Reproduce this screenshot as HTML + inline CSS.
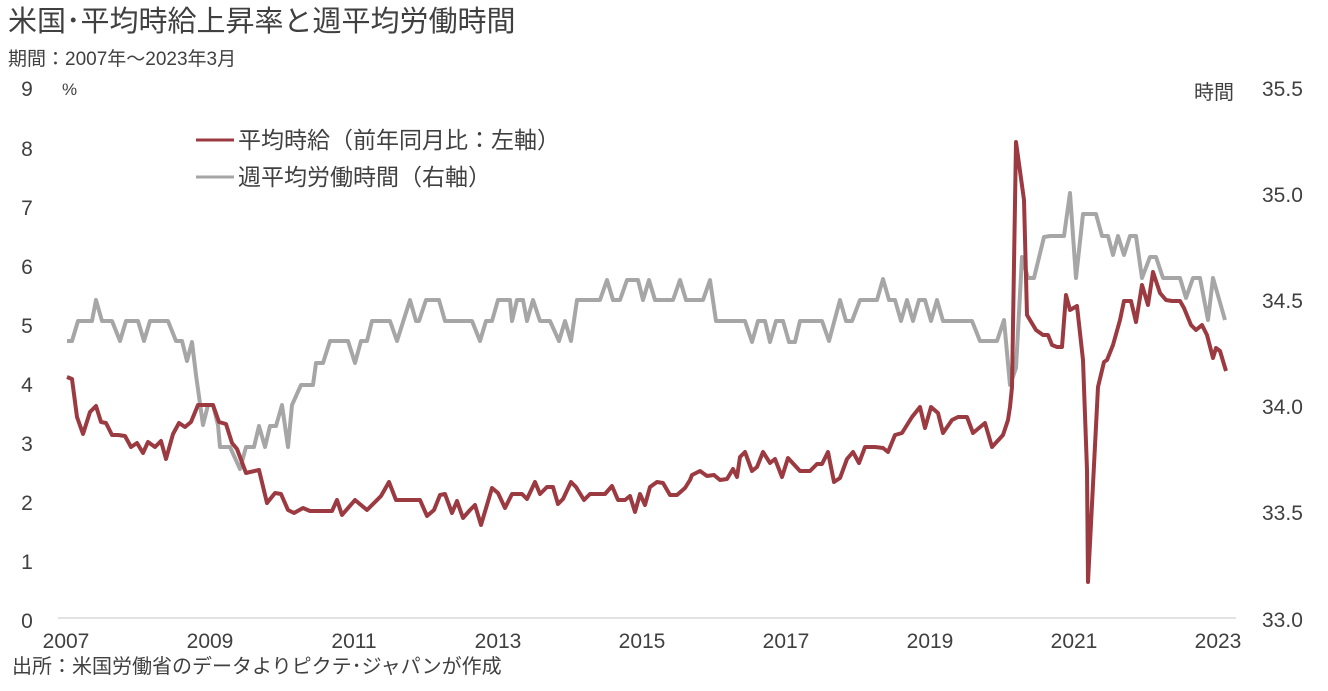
<!DOCTYPE html>
<html><head><meta charset="utf-8"><style>
html,body{margin:0;padding:0;background:#fff;}
svg text{font-family:"Liberation Sans","Noto Sans CJK JP",sans-serif;fill:#404040;}
</style></head><body>
<svg width="1328" height="686" viewBox="0 0 1328 686" xmlns="http://www.w3.org/2000/svg">
<text x="8" y="31" font-size="29" fill="#333">米国･平均時給上昇率と週平均労働時間</text>
<text x="8" y="65" font-size="19">期間：2007年～2023年3月</text>
<g font-size="21" text-anchor="middle">
<text x="27" y="96">9</text><text x="27" y="156">8</text><text x="27" y="215">7</text><text x="27" y="274">6</text><text x="27" y="333">5</text><text x="27" y="392">4</text><text x="27" y="451">3</text><text x="27" y="510">2</text><text x="27" y="569">1</text><text x="27" y="628">0</text>
</g>
<text x="62" y="95" font-size="17">%</text>
<g font-size="21">
<text x="1262" y="96">35.5</text><text x="1262" y="202">35.0</text><text x="1262" y="308">34.5</text><text x="1262" y="414">34.0</text><text x="1262" y="520">33.5</text><text x="1262" y="627">33.0</text>
</g>
<text x="1194" y="99" font-size="20">時間</text>
<g font-size="21" text-anchor="middle">
<text x="66" y="648">2007</text><text x="210" y="648">2009</text><text x="354" y="648">2011</text><text x="498" y="648">2013</text><text x="642" y="648">2015</text><text x="786" y="648">2017</text><text x="930" y="648">2019</text><text x="1074" y="648">2021</text><text x="1218" y="648">2023</text>
</g>
<text x="12" y="673" font-size="20">出所：米国労働省のデータよりピクテ･ジャパンが作成</text>
<line x1="58" y1="618" x2="1236" y2="618" stroke="#d9d9d9" stroke-width="1.5"/>
<line x1="196" y1="140" x2="234" y2="140" stroke="#9b3a40" stroke-width="3"/>
<text x="238" y="148" font-size="23">平均時給（前年同月比：左軸）</text>
<line x1="196" y1="177" x2="234" y2="177" stroke="#a6a6a6" stroke-width="3"/>
<text x="238" y="185" font-size="23">週平均労働時間（右軸）</text>
<polyline fill="none" stroke="#a6a6a6" stroke-width="4" stroke-linejoin="round" points="67,341 72,341 78,321 92,321 96,300 102,321 112,321 120,341 126,321 138,321 144,341 150,321 168,321 176,341 182,341 187,361 192,342 196,375 203,425 208,405 213,405 218,425 220,447 230,447 240,469 246,447 254,447 259,426 265,447 270,426 276,426 282,405 288,447 292,405 301,385 313,385 316,363 323,363 330,341 348,341 355,363 361,341 367,341 372,321 390,321 397,341 410,300 416,321 419,321 426,300 439,300 445,321 472,321 480,341 486,321 492,321 498,300 510,300 512,321 517,300 523,300 527,321 533,300 540,321 550,321 559,341 565,321 571,341 577,300 600,300 607,280 613,300 620,300 627,280 638,280 643,300 649,280 655,300 673,300 680,280 686,300 703,300 710,280 716,321 745,321 752,342 758,321 765,321 770,342 776,321 783,321 789,342 795,342 800,321 822,321 829,341 840,300 846,321 852,321 860,300 877,300 883,279 889,300 895,300 901,321 907,300 913,321 919,300 925,300 931,321 937,300 943,321 972,321 980,341 997,341 1004,320 1010,385 1016,368 1022,257 1028,278 1034,278 1044,237 1050,236 1064,236 1070,193 1076,278 1083,214 1096,214 1102,236 1108,236 1113,255 1118,236 1124,255 1130,236 1136,236 1142,278 1150,257 1156,257 1163,278 1180,278 1186,298 1193,278 1200,278 1208,320 1213,278 1225,320"/>
<polyline fill="none" stroke="#9b3a40" stroke-width="4" stroke-linejoin="round" points="67,377 72,379 77,417 83,434 90,412 96,406 101,422 106,423 112,435 118,435 125,436 131,447 137,443 143,453 148,442 155,447 161,441 166,459 173,434 179,423 185,427 191,422 198,405 207,405 213,405 219,422 226,424 232,443 237,449 246,473 250,472 259,470 267,503 275,493 281,494 288,510 294,513 303,508 310,511 332,511 337,500 342,515 355,500 367,510 381,496 389,482 396,500 420,500 427,516 434,510 440,495 445,494 452,513 457,501 463,518 470,510 475,505 481,525 492,488 498,493 505,508 512,494 522,494 527,499 535,482 540,494 547,487 553,487 558,504 563,499 571,482 576,487 584,500 590,494 605,494 612,486 618,500 625,500 630,496 635,512 640,494 645,505 650,487 657,482 663,483 670,495 677,495 685,488 690,480 692,475 700,471 707,476 714,475 720,480 727,479 733,469 737,477 740,457 745,452 752,471 757,467 763,452 770,463 775,459 782,477 788,458 800,471 810,471 817,464 822,464 828,452 834,482 840,478 847,459 853,452 859,463 865,447 875,447 883,448 888,452 895,435 902,433 907,425 912,417 920,407 925,428 931,407 938,413 943,433 952,420 958,417 967,417 973,433 985,423 992,447 1003,435 1008,420 1010,407 1012,387 1016,142 1024,200 1027,315 1030,320 1036,330 1043,335 1048,335 1052,345 1057,347 1062,347 1066,295 1070,310 1077,306 1083,360 1087,470 1088,582 1098,387 1104,362 1107,360 1113,345 1120,320 1124,301 1131,301 1136,322 1142,285 1148,305 1153,272 1160,293 1166,300 1172,301 1180,301 1184,308 1191,325 1196,330 1202,325 1207,335 1213,358 1216,348 1220,351 1226,371"/>
</svg>
</body></html>
